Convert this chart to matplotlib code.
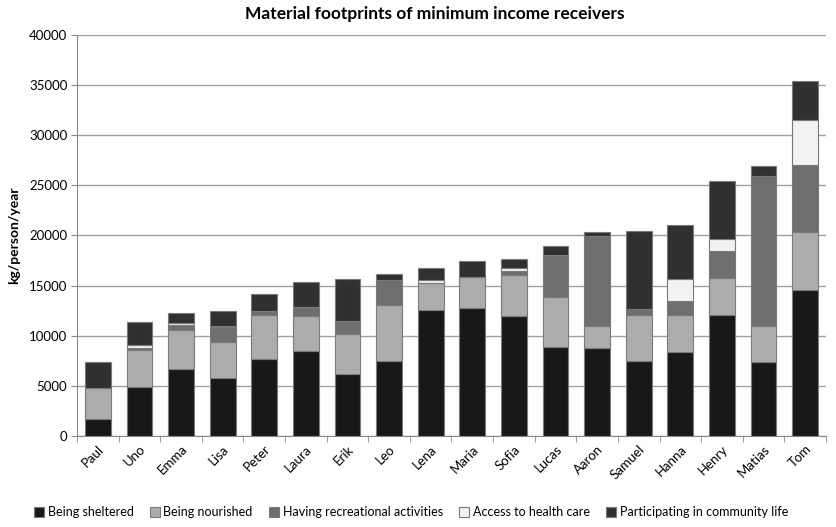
import matplotlib
matplotlib.use("Agg")
import matplotlib.pyplot as plt
import numpy as np

plt.rcParams['font.family'] = ['Lato', 'DejaVu Sans']

names = ["Paul", "Uno", "Emma", "Lisa", "Peter", "Laura", "Erik", "Leo", "Lena",
         "Maria", "Sofia", "Lucas", "Aaron", "Samuel", "Hanna", "Henry", "Matias", "Tom"]
sheltered = [1700, 4850, 6700, 5800, 7700, 8500, 6200, 7500, 12600,
             12800, 12000, 8900, 8800, 7500, 8400, 12100, 7400, 14600]
nourished = [3100, 3750, 3900, 3600, 4400, 3500, 4000, 5600, 2700,
             3100, 4100, 5000, 2150, 4600, 3700, 3700, 3600, 5700]
recreational = [0, 200, 500, 1500, 400, 900, 1300, 2500, 0,
                0, 400, 4200, 8950, 600, 1400, 2700, 14900, 6700]
health = [0, 300, 200, 100, 0, 0, 0, 0, 300,
          0, 300, 0, 0, 0, 2200, 1100, 0, 4500]
community = [2600, 2300, 1000, 1500, 1700, 2500, 4200, 600, 1200,
             1600, 900, 900, 400, 7700, 5300, 5800, 1000, 3900]

series = [
    ("Being sheltered", sheltered, "#181818"),
    ("Being nourished", nourished, "#acacac"),
    ("Having recreational activities", recreational, "#6e6e6e"),
    ("Access to health care", health, "#f2f2f2"),
    ("Participating in community life", community, "#303030"),
]

fig = plt.figure(figsize=(8.36, 5.27), dpi=100)
ax = fig.add_axes([0.0921, 0.1727, 0.8959, 0.7609])

x = np.arange(len(names))
bottom = np.zeros(len(names))
handles = []
for label, vals, col in series:
    v = np.array(vals, dtype=float)
    b = ax.bar(x, v, 0.62, bottom=bottom, color=col, edgecolor="#7a7a7a",
               linewidth=0.8, label=label, zorder=3)
    handles.append(b)
    bottom += v

ax.set_ylim(0, 40000)
ax.set_xlim(-0.5, len(names) - 0.5)
ax.set_yticks(np.arange(0, 40001, 5000))
ax.tick_params(axis='y', labelsize=9.5, length=4, color="#888888", pad=3)
ax.yaxis.grid(True, color="#a0a0a0", linewidth=1.0, zorder=0)
ax.set_axisbelow(True)

ax.set_xticks(x)
ax.set_xticklabels(names, rotation=45, ha='right', rotation_mode='anchor', fontsize=9.5)
ax.tick_params(axis='x', length=0, pad=5)
ax.set_xticks(np.arange(-0.5, len(names), 1.0), minor=True)
ax.tick_params(axis='x', which='minor', length=4, color="#888888")

for s in ['top', 'right']:
    ax.spines[s].set_visible(False)
ax.spines['left'].set_color("#888888")
ax.spines['bottom'].set_color("#888888")

ax.set_ylabel("kg/person/year", fontsize=10, fontweight='bold', labelpad=6)
fig.suptitle("Material footprints of minimum income receivers", x=0.52, y=0.988,
             fontsize=12.5, fontweight='bold')

fig.legend(handles=handles, labels=[s[0] for s in series], loc='lower left',
           bbox_to_anchor=(0.03, 0.0), ncol=5, frameon=False, fontsize=9,
           handlelength=0.8, handleheight=0.8, handletextpad=0.3, columnspacing=1.3,
           borderaxespad=0.3)

fig.savefig("out.png", dpi=100)
